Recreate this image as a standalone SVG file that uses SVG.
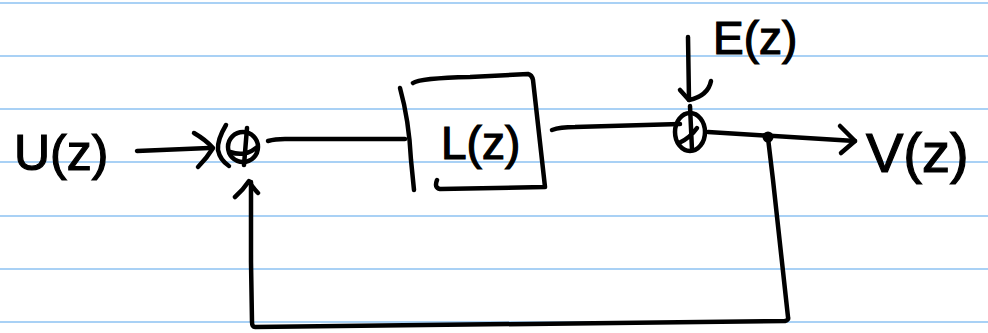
<svg xmlns="http://www.w3.org/2000/svg" width="988" height="333" viewBox="0 0 988 333">
<style>
.rule{stroke:#a9d1f5;stroke-width:2}
.ink{fill:none;stroke:#000;stroke-width:4.5;stroke-linecap:round;stroke-linejoin:round}
.lbl{font-family:"Liberation Sans",Arial,sans-serif;fill:#000;stroke:#000;stroke-width:1.2}
</style>
<rect width="988" height="333" fill="#fff"/>
<g id="paper">
<line class="rule" x1="0" y1="3" x2="988" y2="3"/>
<line class="rule" x1="0" y1="56" x2="988" y2="56"/>
<line class="rule" x1="0" y1="109" x2="988" y2="109"/>
<line class="rule" x1="0" y1="162" x2="988" y2="162"/>
<line class="rule" x1="0" y1="216" x2="988" y2="216"/>
<line class="rule" x1="0" y1="269" x2="988" y2="269"/>
<line class="rule" x1="0" y1="322" x2="988" y2="322"/>
</g>
<g id="connectors">
<path class="ink" d="M137,151 L209,148"/>
<path class="ink" d="M194,133 Q206,140 213,148 Q207,158 198,167"/>
<path class="ink" d="M268,141 Q275,139 285,139 L405,139"/>
<path class="ink" d="M552,130 Q560,127 575,127 L680,124"/>
<path class="ink" d="M688,37 L689,100"/>
<path class="ink" d="M711,81 Q708,96 689,100 L680,90"/>
<path class="ink" d="M708,132 L855,141"/>
<path class="ink" d="M840,126 L855,141 L841,153"/>
<circle cx="768" cy="137" r="5.5" fill="#000"/>
<path class="ink" d="M768,138 L773,180 L788,317 Q789,320 785,321 L255,327 Q252,327 252,322 L251,262 L251,182"/>
<path class="ink" d="M235,197 Q243,190 249,181 Q253,188 258,193"/>
</g>
<g id="sum1">
<path class="ink" d="M226,125 Q217,140 218,150 Q220,160 229,166"/>
<circle class="ink" cx="243" cy="147" r="15"/>
<path class="ink" d="M247,128 L244,165 M230,152 Q245,157 256,148"/>
</g>
<g id="block-L">
<path class="ink" d="M400,88 Q409,120 411,160 L414,190"/>
<path class="ink" d="M413,83 Q420,78 470,77 L528,74 Q532,75 533,80 L545,187 L440,189 Q434,188 437,180"/>
<text class="lbl" x="441" y="159" font-size="46">L(z)</text>
</g>
<g id="sum2">
<ellipse class="ink" cx="690" cy="132" rx="15" ry="19"/>
<path class="ink" d="M690,106 L692,150 M679,143 Q690,138 697,128"/>
</g>
<g id="label-U">
<text class="lbl" x="14" y="170" font-size="50">U(z)</text>
</g>
<g id="label-E">
<text class="lbl" x="713" y="54" font-size="46">E(z)</text>
</g>
<g id="label-V">
<text class="lbl" x="866" y="172" font-size="56">V(z)</text>
</g>
</svg>
